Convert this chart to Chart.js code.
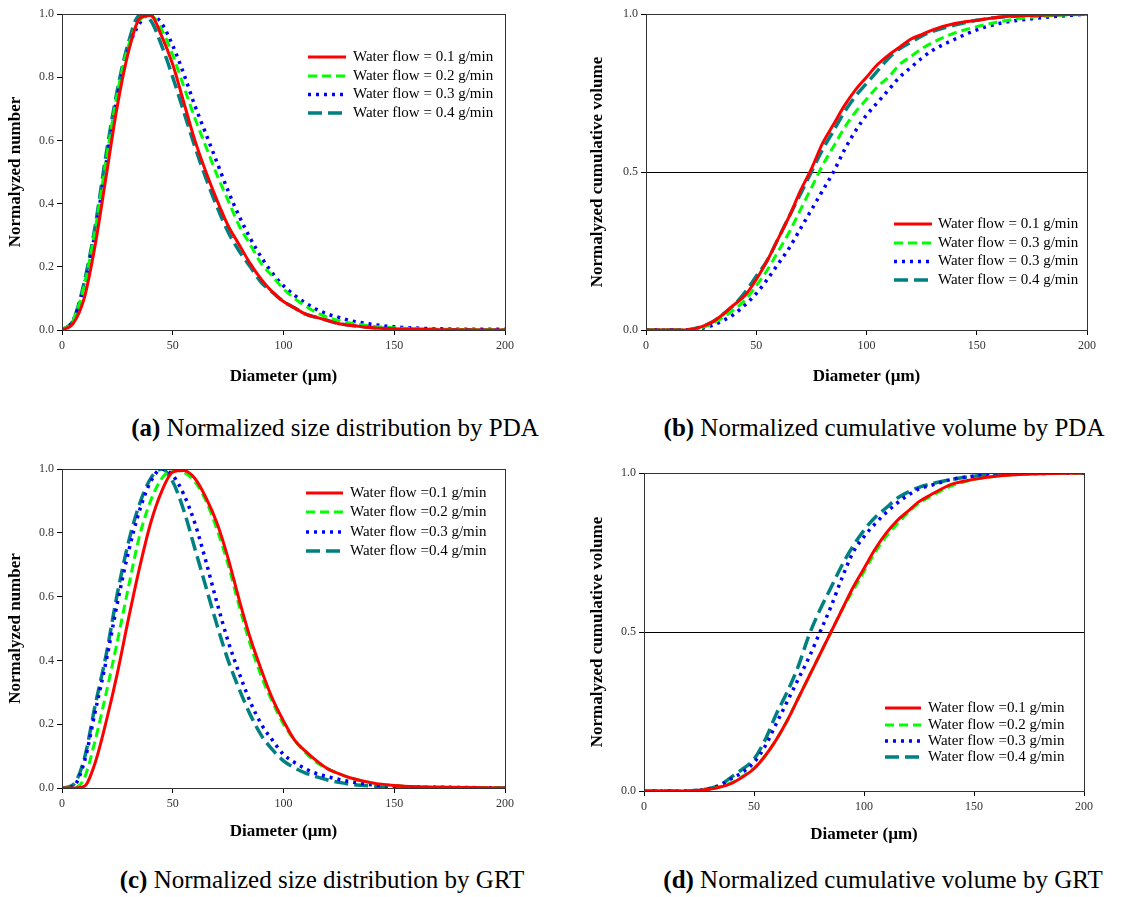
<!DOCTYPE html>
<html lang="en">
<head>
    <meta charset="UTF-8">
    <title>Droplet size distribution - PDA vs GRT</title>
    <script src="https://cdn.jsdelivr.net/npm/chart.js"></script>
    <style>
        body { margin: 0; background: #fff; }
        #page { position: relative; width: 1122px; height: 897px; background: #fff; overflow: hidden; }
        canvas { position: absolute; }
        .caption {
            position: absolute;
            transform: translate(-50%, -50%);
            white-space: nowrap;
            font-family: 'Liberation Serif', 'Times New Roman', serif;
            font-size: 25px;
            color: #000;
        }
    </style>
</head>
<body>
<div id="page">
    <canvas id="chartA" width="540" height="400" style="left:0px;top:0px"></canvas>
    <canvas id="chartB" width="562" height="400" style="left:560px;top:0px"></canvas>
    <canvas id="chartC" width="540" height="400" style="left:0px;top:450px"></canvas>
    <canvas id="chartD" width="562" height="400" style="left:560px;top:450px"></canvas>
    <div class="caption" style="left:335px;top:428px"><b>(a)</b> Normalized size distribution by PDA</div>
    <div class="caption" style="left:884px;top:428px"><b>(b)</b> Normalized cumulative volume by PDA</div>
    <div class="caption" style="left:322px;top:880px"><b>(c)</b> Normalized size distribution by GRT</div>
    <div class="caption" style="left:883px;top:880px"><b>(d)</b> Normalized cumulative volume by GRT</div>
</div>

<script>
    // diameter grid (um) shared by every curve
    const diameter = [0, 5, 10, 15, 20, 25, 30, 35, 40, 45, 50, 55, 60, 65, 70, 75, 80, 85, 90, 95,
        100, 105, 110, 115, 120, 125, 130, 140, 150, 160, 175, 200];

    // (a) normalized number, PDA
    const pdaNum01 = [0, 0.02, 0.10, 0.27, 0.49, 0.71, 0.88, 0.985, 0.995, 0.93, 0.84, 0.72, 0.60, 0.50, 0.41, 0.33,
        0.27, 0.21, 0.16, 0.12, 0.09, 0.07, 0.05, 0.04, 0.03, 0.02, 0.015, 0.007, 0.004, 0.002, 0.001, 0];
    const pdaNum02 = [0, 0.03, 0.14, 0.32, 0.54, 0.75, 0.90, 0.98, 0.995, 0.95, 0.87, 0.77, 0.67, 0.58, 0.49, 0.41,
        0.33, 0.27, 0.21, 0.17, 0.13, 0.10, 0.075, 0.055, 0.04, 0.03, 0.022, 0.012, 0.007, 0.004, 0.002, 0];
    const pdaNum03 = [0, 0.03, 0.14, 0.31, 0.53, 0.74, 0.89, 0.97, 1.0, 0.97, 0.90, 0.81, 0.71, 0.62, 0.53, 0.44,
        0.36, 0.29, 0.23, 0.18, 0.14, 0.11, 0.085, 0.065, 0.05, 0.04, 0.03, 0.018, 0.01, 0.006, 0.003, 0.002];
    const pdaNum04 = [0, 0.03, 0.15, 0.33, 0.56, 0.76, 0.91, 0.995, 0.98, 0.90, 0.80, 0.69, 0.58, 0.48, 0.39, 0.31,
        0.25, 0.20, 0.15, 0.12, 0.09, 0.07, 0.05, 0.04, 0.03, 0.02, 0.015, 0.008, 0.004, 0.002, 0.001, 0];

    // (b) normalized cumulative volume, PDA
    const pdaCum01 = [0, 0, 0, 0, 0.002, 0.01, 0.025, 0.05, 0.08, 0.11, 0.16, 0.22, 0.29, 0.36, 0.44, 0.51,
        0.59, 0.65, 0.71, 0.76, 0.80, 0.84, 0.87, 0.895, 0.92, 0.935, 0.95, 0.97, 0.98, 0.99, 0.995, 1.0];
    const pdaCum02 = [0, 0, 0, 0, 0.002, 0.007, 0.02, 0.04, 0.065, 0.095, 0.14, 0.19, 0.25, 0.31, 0.38, 0.45,
        0.52, 0.58, 0.64, 0.69, 0.73, 0.77, 0.80, 0.84, 0.865, 0.89, 0.91, 0.94, 0.96, 0.975, 0.99, 1.0];
    const pdaCum03 = [0, 0, 0, 0, 0.001, 0.005, 0.015, 0.03, 0.05, 0.08, 0.115, 0.16, 0.21, 0.26, 0.32, 0.38,
        0.44, 0.50, 0.57, 0.63, 0.68, 0.72, 0.76, 0.80, 0.83, 0.86, 0.885, 0.92, 0.95, 0.97, 0.985, 1.0];
    const pdaCum04 = [0, 0, 0, 0, 0.002, 0.01, 0.025, 0.05, 0.08, 0.12, 0.17, 0.22, 0.29, 0.36, 0.43, 0.50,
        0.57, 0.63, 0.69, 0.74, 0.78, 0.82, 0.86, 0.89, 0.91, 0.93, 0.945, 0.965, 0.98, 0.99, 0.995, 1.0];

    // (c) normalized number, GRT
    const grtNum01 = [0, 0, 0.005, 0.08, 0.21, 0.36, 0.53, 0.69, 0.83, 0.93, 0.99, 0.995, 0.97, 0.91, 0.83, 0.72,
        0.59, 0.47, 0.37, 0.28, 0.21, 0.15, 0.115, 0.085, 0.06, 0.045, 0.032, 0.016, 0.008, 0.004, 0.002, 0];
    const grtNum02 = [0, 0, 0.03, 0.15, 0.30, 0.46, 0.63, 0.79, 0.90, 0.97, 0.997, 0.99, 0.96, 0.90, 0.81, 0.70,
        0.57, 0.45, 0.35, 0.27, 0.20, 0.15, 0.11, 0.08, 0.06, 0.045, 0.032, 0.016, 0.008, 0.004, 0.002, 0];
    const grtNum03 = [0, 0.005, 0.08, 0.24, 0.40, 0.58, 0.74, 0.87, 0.96, 1.0, 0.98, 0.92, 0.83, 0.71, 0.58, 0.46,
        0.36, 0.27, 0.20, 0.15, 0.105, 0.08, 0.06, 0.045, 0.035, 0.027, 0.02, 0.01, 0.005, 0.003, 0.002, 0];
    const grtNum04 = [0, 0.01, 0.09, 0.26, 0.42, 0.61, 0.77, 0.89, 0.97, 1.0, 0.96, 0.87, 0.75, 0.63, 0.51, 0.40,
        0.31, 0.23, 0.165, 0.12, 0.085, 0.063, 0.047, 0.035, 0.025, 0.018, 0.012, 0.006, 0.003, 0.002, 0.001, 0];

    // (d) normalized cumulative volume, GRT
    const grtCum01 = [0, 0, 0, 0, 0, 0.002, 0.006, 0.013, 0.025, 0.045, 0.07, 0.11, 0.16, 0.22, 0.29, 0.36,
        0.43, 0.50, 0.57, 0.64, 0.70, 0.76, 0.81, 0.85, 0.88, 0.91, 0.93, 0.965, 0.98, 0.99, 0.997, 1.0];
    const grtCum02 = [0, 0, 0, 0, 0, 0.002, 0.006, 0.014, 0.027, 0.047, 0.072, 0.11, 0.16, 0.22, 0.29, 0.36,
        0.43, 0.50, 0.57, 0.63, 0.69, 0.75, 0.80, 0.84, 0.875, 0.905, 0.925, 0.96, 0.98, 0.99, 0.997, 1.0];
    const grtCum03 = [0, 0, 0, 0, 0, 0.003, 0.008, 0.02, 0.04, 0.06, 0.09, 0.14, 0.21, 0.28, 0.35, 0.42,
        0.50, 0.58, 0.67, 0.75, 0.80, 0.84, 0.875, 0.905, 0.93, 0.95, 0.96, 0.98, 0.99, 0.995, 0.998, 1.0];
    const grtCum04 = [0, 0, 0, 0, 0, 0.003, 0.008, 0.02, 0.045, 0.07, 0.10, 0.16, 0.24, 0.31, 0.39, 0.49,
        0.57, 0.64, 0.71, 0.77, 0.82, 0.86, 0.89, 0.92, 0.94, 0.955, 0.965, 0.98, 0.99, 0.995, 0.998, 1.0];

    // legend texts (the original figure (b) repeats 0.3)
    const labelsA = ['Water flow = 0.1 g/min', 'Water flow = 0.2 g/min', 'Water flow = 0.3 g/min', 'Water flow = 0.4 g/min'];
    const labelsB = ['Water flow = 0.1 g/min', 'Water flow = 0.3 g/min', 'Water flow = 0.3 g/min', 'Water flow = 0.4 g/min'];
    const labelsC = ['Water flow =0.1 g/min', 'Water flow =0.2 g/min', 'Water flow =0.3 g/min', 'Water flow =0.4 g/min'];
    const labelsD = ['Water flow =0.1 g/min', 'Water flow =0.2 g/min', 'Water flow =0.3 g/min', 'Water flow =0.4 g/min'];

    const SERIF = "'Liberation Serif', 'Times New Roman', serif";

    const lineStyles = [
        { borderColor: '#ff0000', borderWidth: 3, borderDash: [] },
        { borderColor: '#00ff00', borderWidth: 3, borderDash: [9, 5] },
        { borderColor: '#0000ff', borderWidth: 3.5, borderDash: [3, 5] },
        { borderColor: '#008080', borderWidth: 3.5, borderDash: [14, 6] }
    ];

    // box round the plot area
    const framePlugin = {
        id: 'frame',
        afterDraw(chart) {
            const a = chart.chartArea, ctx = chart.ctx;
            ctx.save();
            ctx.strokeStyle = '#333';
            ctx.lineWidth = 1;
            ctx.strokeRect(Math.round(a.left) + 0.5, Math.round(a.top) + 0.5,
                Math.round(a.right - a.left), Math.round(a.bottom - a.top));
            ctx.restore();
        }
    };

    // legend drawn inside the plot, line sample + text
    const lineLegend = {
        id: 'lineLegend',
        afterDatasetsDraw(chart, args, opts) {
            const ctx = chart.ctx;
            ctx.save();
            chart.data.datasets.forEach((ds, i) => {
                const y = opts.rows[i];
                ctx.beginPath();
                ctx.setLineDash(ds.borderDash || []);
                ctx.lineWidth = ds.borderWidth;
                ctx.strokeStyle = ds.borderColor;
                ctx.moveTo(opts.x0, y);
                ctx.lineTo(opts.x1, y);
                ctx.stroke();
                ctx.setLineDash([]);
                ctx.fillStyle = '#000';
                ctx.font = '15px ' + SERIF;
                ctx.textBaseline = 'middle';
                ctx.fillText(ds.label, opts.tx, y);
            });
            ctx.restore();
        }
    };

    function makePanel(id, series, labels, cfg) {
        const datasets = series.map((vals, i) => Object.assign({
            label: labels[i],
            data: diameter.map((d, j) => ({ x: d, y: vals[j] })),
            pointRadius: 0,
            fill: false,
            cubicInterpolationMode: 'monotone',
            borderCapStyle: 'butt'
        }, lineStyles[i]));

        new Chart(document.getElementById(id), {
            type: 'line',
            data: { datasets: datasets },
            plugins: [framePlugin, lineLegend],
            options: {
                responsive: false,
                devicePixelRatio: 1,
                animation: false,
                layout: { padding: cfg.padding },
                plugins: {
                    legend: { display: false },
                    tooltip: { enabled: false },
                    lineLegend: cfg.legend
                },
                scales: {
                    x: {
                        type: 'linear',
                        min: 0,
                        max: 200,
                        afterFit: s => { s.height = cfg.xHeight; },
                        ticks: { stepSize: 50, color: '#333', font: { family: SERIF, size: 12 }, padding: 4, maxRotation: 0 },
                        grid: { drawOnChartArea: false, drawTicks: true, tickLength: 5, color: '#000' },
                        border: { display: true, color: '#000', width: 1 },
                        title: {
                            display: true,
                            text: 'Diameter (\u00b5m)',
                            color: '#000',
                            font: { family: SERIF, size: 17, weight: 'bold' },
                            padding: { top: 0, bottom: cfg.xTitlePad }
                        }
                    },
                    y: {
                        min: 0,
                        max: 1,
                        afterFit: s => { s.width = cfg.yWidth; },
                        ticks: {
                            stepSize: cfg.yStep,
                            color: '#333',
                            font: { family: SERIF, size: 12 },
                            padding: 3,
                            callback: v => v.toFixed(1)
                        },
                        grid: {
                            drawOnChartArea: cfg.midLine,
                            drawTicks: true,
                            tickLength: 5,
                            color: '#000'
                        },
                        border: { display: true, color: '#000', width: 1 },
                        title: {
                            display: true,
                            text: cfg.yTitle,
                            color: '#000',
                            font: { family: SERIF, size: 17, weight: 'bold' },
                            padding: { top: cfg.yTitlePad, bottom: 0 }
                        }
                    }
                }
            }
        });
    }

    makePanel('chartA', [pdaNum01, pdaNum02, pdaNum03, pdaNum04], labelsA, {
        padding: { top: 14, right: 35, left: 0, bottom: 0 },
        xHeight: 70, yWidth: 62, xTitlePad: 13, yTitlePad: 5,
        yStep: 0.2, midLine: false, yTitle: 'Normalyzed number',
        legend: { x0: 308, x1: 346, tx: 353, rows: [57, 76, 94.5, 113] }
    });

    makePanel('chartB', [pdaCum01, pdaCum02, pdaCum03, pdaCum04], labelsB, {
        padding: { top: 14, right: 35, left: 0, bottom: 0 },
        xHeight: 70, yWidth: 86, xTitlePad: 13, yTitlePad: 27,
        yStep: 0.5, midLine: true, yTitle: 'Normalyzed cumulative volume',
        legend: { x0: 334, x1: 372, tx: 378, rows: [224, 243, 261.5, 280] }
    });

    makePanel('chartC', [grtNum01, grtNum02, grtNum03, grtNum04], labelsC, {
        padding: { top: 19, right: 35, left: 0, bottom: 0 },
        xHeight: 62, yWidth: 62, xTitlePad: 8, yTitlePad: 5,
        yStep: 0.2, midLine: false, yTitle: 'Normalyzed number',
        legend: { x0: 306, x1: 343, tx: 350, rows: [43, 62, 82, 101] }
    });

    makePanel('chartD', [grtCum01, grtCum02, grtCum03, grtCum04], labelsD, {
        padding: { top: 23, right: 38, left: 0, bottom: 0 },
        xHeight: 59, yWidth: 84, xTitlePad: 5, yTitlePad: 27,
        yStep: 0.5, midLine: true, yTitle: 'Normalyzed cumulative volume',
        legend: { x0: 325, x1: 361, tx: 368, rows: [258, 275, 291, 307] }
    });
</script>
</body>
</html>
